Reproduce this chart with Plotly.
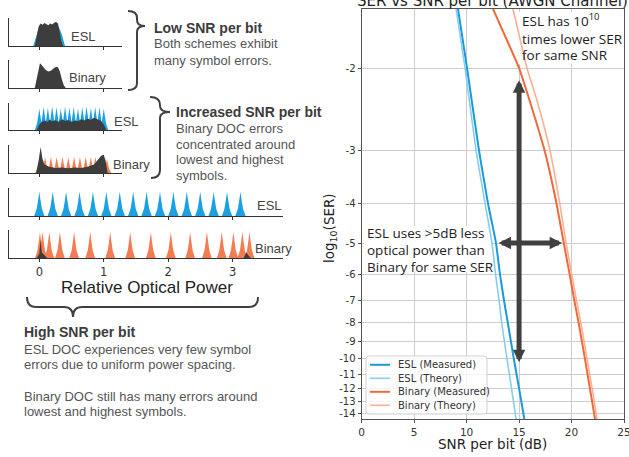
import math
import plotly.graph_objects as go

W, H = 629, 457

# ---------------- right chart data (log10 SER vs SNR per bit) ----------------
ESL_LOG_SER = [-1.55, -2, -3, -4, -5, -6, -7, -8, -10, -12, -14.53]
ESL_MEAS_SNR = [9.18, 10.04, 11.18, 12.04, 12.80, 13.18, 13.56, 13.92, 14.50, 15.00, 15.50]
ESL_THEO_SNR = [9.00, 9.85, 10.90, 11.76, 12.42, 12.76, 13.09, 13.34, 13.85, 14.28, 14.71]
BIN_LOG_SER = [-1.55, -2, -2.33, -3, -4, -5, -6, -7, -8, -10, -12, -14.53]
BIN_MEAS_SNR = [12.52, 15.00, 16.00, 17.43, 18.57, 19.26, 19.82, 20.26, 20.67, 21.28, 21.75, 22.24]
BIN_THEO_SNR = [14.42, 15.76, 16.71, 17.95, 18.88, 19.48, 20.02, 20.47, 20.88, 21.48, 21.96, 22.43]
SERIES_NAMES = ["ESL (Measured)", "ESL (Theory)", "Binary (Measured)", "Binary (Theory)"]
Y_TICKS = [-2, -3, -4, -5, -6, -7, -8, -9, -10, -11, -12, -13, -14]
X_TICKS = [0, 5, 10, 15, 20, 25]
Y_EXTENT = (-1.55, -14.53)
X_EXTENT = (0, 25)
ARROW_SNR = 15
ARROW_SER = (-2.1, -10.2)
HARROW_SER = -5
HARROW_SNR = (12.9, 19.1)

# ---------------- left panel data (relative optical power histograms) ----------------
ESL_LEVELS = [0, 0.208, 0.416, 0.624, 0.832, 1.04, 1.248, 1.456, 1.664, 1.872,
              2.08, 2.288, 2.496, 2.704, 2.912, 3.12]
BIN_LEVELS = [0.01, 0.05, 0.155, 0.32, 0.54, 0.79, 1.10, 1.41, 1.73, 2.04,
              2.34, 2.60, 2.83, 3.01, 3.15, 3.26]
ESL_MID_CENTERS = [0.0, 0.067, 0.133, 0.2, 0.267, 0.333, 0.4, 0.467, 0.533, 0.6,
                   0.667, 0.733, 0.8, 0.867, 0.933, 1.0]
ESL_MID_HEIGHTS = [0.8, 0.86, 0.82, 0.88, 0.84, 0.8, 0.87, 0.83, 0.86, 0.8,
                   0.85, 0.88, 0.82, 0.86, 0.84, 0.8]
BIN_MID_CENTERS = [0.0, 0.03, 0.09, 0.18, 0.27, 0.36, 0.45, 0.54, 0.63, 0.72,
                   0.8, 0.87, 0.93, 0.98, 1.02, 1.05]
BIN_MID_HEIGHTS = [0.5, 0.55, 0.58, 0.58, 0.57, 0.58, 0.56, 0.58, 0.57, 0.58,
                   0.57, 0.58, 0.56, 0.58, 0.55, 0.5]

ESL_LOW_X = [-0.095, -0.06, -0.02, 0.02, 0.30, 0.345, 0.37, 0.40]
ESL_LOW_Y = [0, 0.25, 0.55, 0.70, 0.70, 0.45, 0.2, 0]
ERR1_X = [-0.07, -0.04, -0.01, 0.02, 0.05, 0.08, 0.11, 0.14, 0.17, 0.2, 0.23, 0.26, 0.29, 0.31, 0.34, 0.37]
ERR1_Y = [0, 0.35, 0.7, 0.8, 0.76, 0.82, 0.78, 0.74, 0.8, 0.77, 0.83, 0.86, 0.8, 0.55, 0.2, 0]
ERR2_X = [-0.07, -0.04, -0.01, 0.01, 0.03, 0.06, 0.1, 0.14, 0.18, 0.22, 0.26, 0.29, 0.32, 0.35, 0.38, 0.41]
ERR2_Y = [0, 0.35, 0.75, 0.88, 0.84, 0.74, 0.64, 0.59, 0.62, 0.7, 0.76, 0.74, 0.58, 0.3, 0.1, 0]
ERR3_X = [-0.04, 0.0, 0.04, 0.08, 0.12, 0.16, 0.2, 0.25, 0.3, 0.35, 0.4, 0.45, 0.5,
          0.55, 0.6, 0.65, 0.7, 0.75, 0.8, 0.85, 0.9, 0.95, 1.0, 1.04]
ERR3_Y = [0, 0.2, 0.3, 0.35, 0.3, 0.38, 0.32, 0.36, 0.3, 0.4, 0.33, 0.37, 0.3,
          0.35, 0.32, 0.4, 0.35, 0.42, 0.38, 0.45, 0.4, 0.35, 0.2, 0]
ERR4_X = [-0.05, -0.01, 0.02, 0.05, 0.08, 0.15, 0.25, 0.35, 0.45, 0.55, 0.65, 0.75,
          0.85, 0.92, 0.96, 1.0, 1.03, 1.06]
ERR4_Y = [0, 0.45, 0.93, 0.5, 0.3, 0.22, 0.18, 0.2, 0.17, 0.2, 0.18, 0.22,
          0.3, 0.5, 0.62, 0.65, 0.4, 0]
ERR6_X = [-0.04, 0.0, 0.02, 0.04, 0.1, 0.12, None, 3.17, 3.21, 3.24, 3.28]
ERR6_Y = [0, 0.15, 0.65, 0.2, 0.05, 0, None, 0, 0.2, 0.1, 0]

BLUE, ORANGE, DARK = "#1ba1e2", "#f47c52", "#3d3d3d"
C_ESL_M, C_ESL_T = "#1a9ad6", "#86cdf0"
C_BIN_M, C_BIN_T = "#f0693a", "#f8b096"
SERIES_COLORS = [C_ESL_M, C_ESL_T, C_BIN_M, C_BIN_T]
SERIES_WIDTHS = [2, 1.6, 2, 1.6]

OFFSET = 0.6  # axis transform offset


def ypos(v):
    return -v - OFFSET


def ylog(v):
    return math.log10(ypos(v))


def peaks(centers, heights, hw):
    xs, ys = [], []
    for c, h in zip(centers, heights):
        xs += [c - hw, c - 0.5 * hw, c - 0.2 * hw, c, c + 0.2 * hw, c + 0.5 * hw, c + hw, None]
        ys += [0, 0.3 * h, 0.7 * h, h, 0.7 * h, 0.3 * h, 0, None]
    return xs, ys


fig = go.Figure()

# ---- right chart traces
for name, xs, lv, col, wd in zip(SERIES_NAMES, [ESL_MEAS_SNR, ESL_THEO_SNR, BIN_MEAS_SNR, BIN_THEO_SNR],
                                 [ESL_LOG_SER, ESL_LOG_SER, BIN_LOG_SER, BIN_LOG_SER],
                                 SERIES_COLORS, SERIES_WIDTHS):
    fig.add_trace(go.Scatter(x=xs, y=[ypos(v) for v in lv], mode="lines", name=name,
                             line=dict(color=col, width=wd, shape="spline", smoothing=0.4),
                             xaxis="x", yaxis="y", hoverinfo="skip", showlegend=False))


# ---- left panels
def poly(x, y, color, k):
    fig.add_trace(go.Scatter(x=x, y=y, mode="lines", fill="toself", fillcolor=color,
                             line=dict(width=0, color=color), showlegend=False,
                             xaxis=f"x{k}", yaxis=f"y{k}", hoverinfo="skip"))


poly(ESL_LOW_X, ESL_LOW_Y, BLUE, 2)
poly(ERR1_X, ERR1_Y, DARK, 2)
poly(ERR2_X, ERR2_Y, DARK, 3)
px3, py3 = peaks(ESL_MID_CENTERS, ESL_MID_HEIGHTS, 0.07)
poly(px3, py3, BLUE, 4)
poly(ERR3_X, ERR3_Y, DARK, 4)
px4, py4 = peaks(BIN_MID_CENTERS, BIN_MID_HEIGHTS, 0.065)
poly(px4, py4, ORANGE, 5)
poly(ERR4_X, ERR4_Y, DARK, 5)
px5, py5 = peaks(ESL_LEVELS, [0.87] * len(ESL_LEVELS), 0.08)
poly(px5, py5, BLUE, 6)
px6, py6 = peaks(BIN_LEVELS, [0.93] * len(BIN_LEVELS), 0.075)
poly(px6, py6, ORANGE, 7)
poly(ERR6_X, ERR6_Y, DARK, 7)

# ---- layout
PLOT_L, PLOT_R, PLOT_T, PLOT_B = 361.7, 624, 9, 419
LEFT_L, LEFT_R_SHORT, LEFT_R = 9, 122, 283
PANELS = [(18, 46), (60, 88), (103, 130), (145, 173), (188, 216), (230, 258)]


def PX(x):
    return x / W


def PY(y):
    return 1 - y / H


yr = [math.log10(ypos(Y_EXTENT[1])), math.log10(ypos(Y_EXTENT[0]))]
layout = dict(
    width=W, height=H, autosize=False, margin=dict(l=0, r=0, t=0, b=0, autoexpand=False),
    paper_bgcolor="white", plot_bgcolor="white",
    font=dict(family="DejaVu Sans", color="#333"),
    xaxis=dict(domain=[PX(PLOT_L), PX(PLOT_R)], range=list(X_EXTENT), tickvals=X_TICKS,
               showgrid=True, gridcolor="#cdcdcd", gridwidth=1.3, zeroline=False,
               showline=True, linecolor="#555", linewidth=1.2, mirror=True,
               ticks="outside", ticklen=3, tickcolor="#555", ticklabeloverflow="allow",
               automargin=False, tickfont=dict(size=10.5, color="#333"), anchor="y"),
    yaxis=dict(domain=[PY(PLOT_B), PY(PLOT_T)], type="log", range=[yr[0], yr[1]],
               tickvals=[ypos(t) for t in Y_TICKS], ticktext=[str(t) for t in Y_TICKS],
               showgrid=True, gridcolor="#cdcdcd", gridwidth=1.3, zeroline=False,
               showline=True, linecolor="#555", linewidth=1.2, mirror=True,
               ticks="outside", ticklen=3, tickcolor="#555", automargin=False,
               tickfont=dict(size=10, color="#333"), anchor="x"),
    showlegend=False,
)
for i, (top, base) in enumerate(PANELS):
    k = i + 2
    right = LEFT_R if i >= 4 else LEFT_R_SHORT
    xmax = -0.47 + (right - LEFT_L) * (3.78 + 0.47) / (LEFT_R - LEFT_L)
    layout[f"xaxis{k}"] = dict(domain=[PX(LEFT_L), PX(right)], range=[-0.47, xmax],
                               anchor=f"y{k}", showline=True, linecolor="#333", linewidth=1,
                               ticks="outside", ticklen=3, tickcolor="#333",
                               tickvals=[0, 1, 2, 3], showticklabels=(i == 5),
                               showgrid=False, zeroline=False, automargin=False,
                               tickfont=dict(size=11.5, family="DejaVu Sans", color="#333"))
    layout[f"yaxis{k}"] = dict(domain=[PY(base), PY(top)], range=[0, 1], anchor=f"x{k}",
                               showline=True, linecolor="#333", linewidth=1, automargin=False,
                               showticklabels=False, ticks="", showgrid=False, zeroline=False)
fig.update_layout(**layout)

# ---- annotations
ann = []


def txt(text, x, y, size, color="#444", family="Liberation Sans", xanchor="left",
        yanchor="middle", **kw):
    ann.append(dict(text=text, x=PX(x), y=PY(y), xref="paper", yref="paper",
                    xanchor=xanchor, yanchor=yanchor, showarrow=False, borderpad=0,
                    font=dict(size=size, color=color, family=family), align="left", **kw))


def lines(texts, x, ys, size, color, family="Liberation Sans"):
    for t, y in zip(texts, ys):
        txt(t, x, y, size, color, family)


for label, x, y in [("ESL", 70, 36), ("Binary", 68, 78), ("ESL", 113, 122),
                    ("Binary", 112, 164), ("ESL", 256, 205), ("Binary", 254, 248)]:
    txt(label, x, y, 13, "#444")

txt("<b>Low SNR per bit</b>", 153, 28, 14, "#3c3c3c")
lines(["Both schemes exhibit", "many symbol errors."], 153, [44, 60], 13, "#555")
txt("<b>Increased SNR per bit</b>", 175, 112, 14, "#3c3c3c")
lines(["Binary DOC errors", "concentrated around", "lowest and highest", "symbols."],
      175, [128, 144, 159.5, 175], 13, "#555")
txt("<b>High SNR per bit</b>", 23, 332, 14, "#3c3c3c")
lines(["ESL DOC experiences very few symbol", "errors due to uniform power spacing.",
       "Binary DOC still has many errors around", "lowest and highest symbols."],
      23, [349, 364.5, 396, 411], 13, "#555")
txt("Relative Optical Power", 147, 287, 17, "#222", xanchor="center")

txt("SER vs SNR per bit (AWGN Channel)", 492, 11, 15, "#222", family="DejaVu Sans",
    xanchor="center", yanchor="bottom")
txt("SNR per bit (dB)", 492, 444, 13.5, "#222", family="DejaVu Sans", xanchor="center")
txt("log<sub>10</sub>(SER)", 330, 228, 13.5, "#222", family="DejaVu Sans", xanchor="center",
    textangle=-90)
lines(["ESL has 10<sup>10</sup>", "times lower SER", "for same SNR"], 521, [20.5, 38.5, 55],
      13.5, "#222", family="Open Sans")
lines(["ESL uses >5dB less", "optical power than", "Binary for same SER"], 366,
      [233, 250, 266.5], 13.5, "#222", family="Open Sans")

# legend (drawn by hand to match the compact reference legend)
LEG_L, LEG_R, LEG_T, LEG_B = 366, 487, 356, 414
LEG_ROWS = [364.8, 378.3, 391.8, 405.3]
for name, y in zip(SERIES_NAMES, LEG_ROWS):
    txt(name, 397, y, 10, "#333", family="DejaVu Sans")

# arrows
ann.append(dict(x=ARROW_SNR, y=ylog(ARROW_SER[1]), ax=ARROW_SNR, ay=ylog(ARROW_SER[0]),
                xref="x", yref="y", axref="x", ayref="y", text="", showarrow=True,
                arrowhead=2, startarrowhead=2, arrowside="end+start", arrowwidth=5,
                arrowsize=0.5, startarrowsize=0.5, arrowcolor="#404040"))
ann.append(dict(x=HARROW_SNR[1], y=ylog(HARROW_SER), ax=HARROW_SNR[0], ay=ylog(HARROW_SER),
                xref="x", yref="y", axref="x", ayref="y", text="", showarrow=True,
                arrowhead=2, startarrowhead=2, arrowside="end+start", arrowwidth=5,
                arrowsize=0.5, startarrowsize=0.5, arrowcolor="#404040"))
fig.update_layout(annotations=ann)


# ---- shapes: braces, text backgrounds, legend frame
def path(cmds):
    out = []
    for c, pts in cmds:
        out.append(c + " " + " ".join(f"{PX(x):.5f},{PY(y):.5f}" for x, y in pts))
    return " ".join(out)


brace_style = dict(type="path", xref="paper", yref="paper", line=dict(color="#404040", width=2))
shapes = [
    dict(path=path([("M", [(128, 11)]), ("Q", [(137, 11), (137, 18)]), ("L", [(137, 20)]),
                    ("Q", [(137, 26), (145, 26)]), ("Q", [(137, 26), (137, 32)]),
                    ("L", [(137, 83)]), ("Q", [(137, 90), (128, 90)])]), **brace_style),
    dict(path=path([("M", [(150, 97)]), ("Q", [(160, 97), (160, 105)]), ("L", [(160, 106)]),
                    ("Q", [(160, 112), (170, 112)]), ("Q", [(160, 112), (160, 118)]),
                    ("L", [(160, 170)]), ("Q", [(160, 178), (151, 178)])]), **brace_style),
    dict(path=path([("M", [(27, 297)]), ("Q", [(27, 307), (36, 307)]), ("L", [(64, 307)]),
                    ("Q", [(73, 307), (73, 317)]), ("Q", [(73, 307), (82, 307)]),
                    ("L", [(249, 307)]), ("Q", [(258, 307), (258, 297)])]), **brace_style),
]


def px_to_snr(x):
    return X_EXTENT[0] + (x - PLOT_L) / (PLOT_R - PLOT_L) * (X_EXTENT[1] - X_EXTENT[0])


def py_to_yval(y):
    frac = (y - PLOT_T) / (PLOT_B - PLOT_T)
    return 10 ** (yr[1] + frac * (yr[0] - yr[1]))


for (x0, x1, y0, y1) in [(517, 624, 12, 64), (364, 492, 226, 272)]:
    shapes.append(dict(type="rect", xref="x", yref="y", layer="between",
                       x0=px_to_snr(x0), x1=px_to_snr(x1), y0=py_to_yval(y0), y1=py_to_yval(y1),
                       fillcolor="white", line=dict(width=0)))

r = 3
shapes.append(dict(type="path", xref="paper", yref="paper", layer="above",
                   path=path([("M", [(LEG_L + r, LEG_T)]), ("L", [(LEG_R - r, LEG_T)]),
                              ("Q", [(LEG_R, LEG_T), (LEG_R, LEG_T + r)]), ("L", [(LEG_R, LEG_B - r)]),
                              ("Q", [(LEG_R, LEG_B), (LEG_R - r, LEG_B)]), ("L", [(LEG_L + r, LEG_B)]),
                              ("Q", [(LEG_L, LEG_B), (LEG_L, LEG_B - r)]), ("L", [(LEG_L, LEG_T + r)]),
                              ("Q", [(LEG_L, LEG_T), (LEG_L + r, LEG_T)])]) + " Z",
                   fillcolor="rgba(255,255,255,0.8)", line=dict(color="#d0d0d0", width=1)))
for col, wd, y in zip(SERIES_COLORS, SERIES_WIDTHS, LEG_ROWS):
    shapes.append(dict(type="line", xref="paper", yref="paper", layer="above",
                       x0=PX(370), x1=PX(390), y0=PY(y), y1=PY(y),
                       line=dict(color=col, width=wd)))
fig.update_layout(shapes=shapes)

fig.write_html("out.html")
